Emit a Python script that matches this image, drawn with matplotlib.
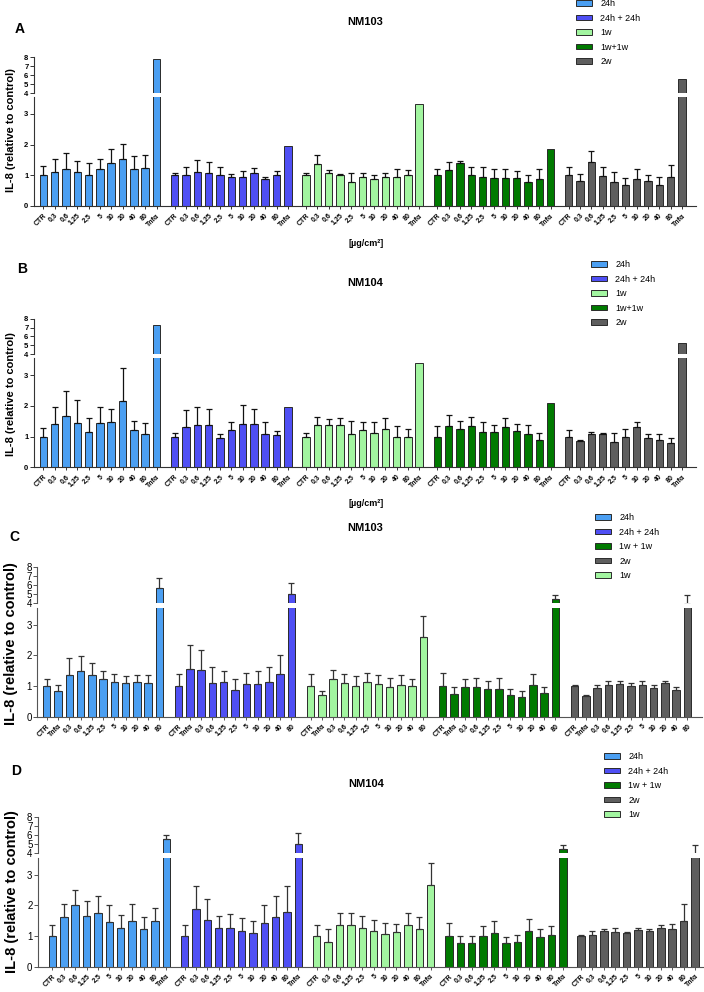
import matplotlib
matplotlib.use("Agg")
import matplotlib.pyplot as plt
import numpy as np
from matplotlib.patches import Patch

plt.rcParams['font.family'] = ['Liberation Sans', 'DejaVu Sans']

W, H = 704, 992

# ---- labels ----
doses_ab = ['CTR', '0,3', '0,6', '1,25', '2,5', '5', '10', '20', '40', '80', 'Tnfα']
doses_c = ['CTR', 'Tnfα', '0,3', '0,6', '1,25', '2,5', '5', '10', '20', '40', '80']
groups = ['24h', '24h + 24h', '1w', '1w+1w', '2w']
legend_cd = ['24h', '24h + 24h', '1w + 1w', '2w', '1w']
colors = ['#4b9ff2', '#4f4ff4', '#a2f5a0', '#007a00', '#5e5e5e']

# ---- panel A (NM103) ----
a_24h = [1.00, 1.11, 1.20, 1.11, 1.02, 1.22, 1.41, 1.54, 1.22, 1.24, 7.85]
a_24h_sd = [0.30, 0.41, 0.52, 0.37, 0.37, 0.30, 0.44, 0.48, 0.41, 0.43, 0]
a_24h24h = [1.00, 1.00, 1.11, 1.09, 1.02, 0.93, 0.93, 1.07, 0.87, 1.02, 1.96]
a_24h24h_sd = [0.09, 0.26, 0.39, 0.34, 0.26, 0.11, 0.20, 0.17, 0.06, 0.11, 0]
a_1w = [1.00, 1.37, 1.09, 1.00, 0.78, 0.96, 0.89, 0.93, 0.96, 1.00, 3.33]
a_1w_sd = [0.09, 0.30, 0.08, 0.04, 0.31, 0.13, 0.13, 0.16, 0.24, 0.17, 0]
a_1w1w = [1.00, 1.17, 1.39, 1.00, 0.93, 0.91, 0.91, 0.91, 0.78, 0.87, 1.85]
a_1w1w_sd = [0.22, 0.26, 0.09, 0.28, 0.35, 0.29, 0.31, 0.22, 0.22, 0.35, 0]
a_2w = [1.00, 0.80, 1.43, 0.98, 0.78, 0.67, 0.89, 0.80, 0.67, 0.96, 5.55]
a_2w_sd = [0.26, 0.24, 0.35, 0.30, 0.33, 0.24, 0.33, 0.20, 0.26, 0.39, 0]

# ---- panel B (NM104) ----
b_24h = [1.00, 1.41, 1.67, 1.43, 1.16, 1.43, 1.46, 2.15, 1.20, 1.09, 7.32]
b_24h_sd = [0.28, 0.57, 0.83, 0.77, 0.43, 0.53, 0.45, 1.07, 0.30, 0.34, 0]
b_24h24h = [1.00, 1.30, 1.37, 1.37, 0.96, 1.20, 1.41, 1.41, 1.07, 1.04, 1.98]
b_24h24h_sd = [0.11, 0.55, 0.59, 0.52, 0.11, 0.26, 0.61, 0.50, 0.41, 0.13, 0]
b_1w = [1.00, 1.39, 1.37, 1.37, 1.07, 1.20, 1.13, 1.24, 0.98, 0.98, 3.41]
b_1w_sd = [0.11, 0.24, 0.20, 0.22, 0.45, 0.28, 0.33, 0.35, 0.35, 0.26, 0]
b_1w1w = [1.00, 1.33, 1.26, 1.35, 1.15, 1.15, 1.30, 1.17, 1.09, 0.89, 2.09]
b_1w1w_sd = [0.33, 0.37, 0.24, 0.30, 0.33, 0.24, 0.29, 0.24, 0.28, 0.24, 0]
b_2w = [1.00, 0.87, 1.07, 1.09, 0.83, 0.98, 1.30, 0.96, 0.89, 0.80, 5.20]
b_2w_sd = [0.20, 0.02, 0.08, 0.02, 0.28, 0.26, 0.16, 0.13, 0.20, 0.16, 0]

# ---- panel C (NM103) ----
c_24h = [1.00, 0.85, 1.35, 1.48, 1.37, 1.22, 1.13, 1.11, 1.13, 1.11, 5.66]
c_24h_sd = [0.24, 0.19, 0.56, 0.50, 0.37, 0.28, 0.26, 0.22, 0.24, 0.24, 1.13]
c_24h24h = [1.00, 1.57, 1.52, 1.11, 1.13, 0.87, 1.07, 1.07, 1.13, 1.39, 4.98]
c_24h24h_sd = [0.39, 0.78, 0.65, 0.50, 0.37, 0.35, 0.36, 0.43, 0.48, 0.63, 1.21]
c_1w = [1.00, 0.72, 1.22, 1.09, 1.00, 1.13, 1.07, 0.98, 1.03, 1.01, 2.59]
c_1w_sd = [0.39, 0.13, 0.32, 0.32, 0.33, 0.30, 0.30, 0.28, 0.32, 0.21, 0.69]
c_1w1w = [1.00, 0.74, 0.96, 0.96, 0.89, 0.92, 0.70, 0.65, 1.02, 0.76, 4.38]
c_1w1w_sd = [0.43, 0.24, 0.28, 0.30, 0.28, 0.36, 0.19, 0.20, 0.37, 0.22, 0.52]
c_2w = [1.00, 0.67, 0.93, 1.02, 1.07, 1.00, 1.02, 0.93, 1.09, 0.87, 3.80]
c_2w_sd = [0.02, 0.05, 0.11, 0.13, 0.10, 0.11, 0.15, 0.11, 0.08, 0.09, 1.10]

# ---- panel D (NM104) ----
d_24h = [1.00, 1.63, 2.02, 1.65, 1.74, 1.46, 1.26, 1.48, 1.24, 1.50, 5.56]
d_24h_sd = [0.37, 0.41, 0.48, 0.50, 0.56, 0.54, 0.44, 0.56, 0.39, 0.43, 0.51]
d_24h24h = [1.00, 1.89, 1.54, 1.28, 1.26, 1.17, 1.09, 1.43, 1.61, 1.80, 5.04]
d_24h24h_sd = [0.37, 0.76, 0.66, 0.37, 0.46, 0.42, 0.39, 0.57, 0.69, 0.85, 1.18]
d_1w = [1.00, 0.80, 1.37, 1.37, 1.25, 1.15, 1.07, 1.13, 1.35, 1.24, 2.67]
d_1w_sd = [0.37, 0.42, 0.39, 0.37, 0.42, 0.37, 0.36, 0.28, 0.41, 0.39, 0.72]
d_1w1w = [1.00, 0.76, 0.78, 1.00, 1.09, 0.76, 0.80, 1.15, 0.96, 1.04, 4.44]
d_1w1w_sd = [0.43, 0.24, 0.22, 0.33, 0.41, 0.22, 0.22, 0.42, 0.26, 0.29, 0.52]
d_2w = [1.00, 1.02, 1.15, 1.13, 1.11, 1.20, 1.17, 1.26, 1.24, 1.48, 3.80]
d_2w_sd = [0.04, 0.15, 0.07, 0.15, 0.02, 0.06, 0.05, 0.09, 0.15, 0.56, 1.09]

fig = plt.figure(figsize=(W / 100, H / 100), dpi=100)


def fx(px):
    return px / W


def fy(px):
    return 1 - px / H


def panel(means, sds, labels, geo, bold, tick_fs, ecol, scol):
    left, right, y0, ylo_top, y4, y8, lm, gap, rm = geo
    n = len(labels)
    stride = n + gap
    xmax = 4 * stride + n - 1 + rm
    lo = fig.add_axes([fx(left), fy(y0), fx(right - left), (y0 - ylo_top) / H])
    hi = fig.add_axes([fx(left), fy(y4), fx(right - left), (y4 - y8) / H])
    fw = 'bold' if bold else 'normal'
    for ax in (lo, hi):
        for g in range(5):
            xs = g * stride + np.arange(n)
            m = np.array(means[g])
            s = np.array(sds[g])
            ax.bar(xs, m, width=0.66, color=colors[g], edgecolor='#2a2a2a',
                   linewidth=0.7, zorder=2)
            k = s > 0
            ax.errorbar(xs[k], m[k], yerr=[np.zeros(k.sum()), s[k]], fmt='none',
                        ecolor=ecol, elinewidth=0.9, capsize=2, capthick=0.9, zorder=3)
        ax.set_xlim(-lm, xmax)
        for sp in ('top', 'right'):
            ax.spines[sp].set_visible(False)
        for sp in ('left', 'bottom'):
            ax.spines[sp].set_color(scol)
            ax.spines[sp].set_linewidth(0.8)
        ax.tick_params(axis='y', length=3, width=0.7, color=scol, labelsize=tick_fs, pad=1)
    lo.set_ylim(0, 3.55)
    lo.set_yticks([0, 1, 2, 3])
    hi.set_ylim(4, 8)
    hi.set_yticks([4, 5, 6, 7, 8])
    for ax in (lo, hi):
        for t in ax.get_yticklabels():
            t.set_fontweight(fw)
    hi.spines['bottom'].set_visible(False)
    hi.set_xticks([])
    ticks = np.concatenate([g * stride + np.arange(n) for g in range(5)])
    lo.set_xticks(ticks)
    lo.set_xticklabels(labels * 5, rotation=45, ha='right', rotation_mode='anchor',
                       fontsize=5, fontweight='bold')
    lo.tick_params(axis='x', length=2.5, width=0.7, color=scol, pad=2)
    return lo, hi


def legend(names, x, y):
    cmap = {'24h': colors[0], '24h + 24h': colors[1], '1w': colors[2],
            '1w+1w': colors[3], '1w + 1w': colors[3], '2w': colors[4]}
    handles = [Patch(facecolor=cmap[nm], edgecolor='#2a2a2a', linewidth=0.7) for nm in names]
    fig.legend(handles, names, loc='upper left', bbox_to_anchor=(fx(x), fy(y)),
               frameon=False, fontsize=6.5, handlelength=1.8, handleheight=0.6,
               handletextpad=0.9, labelspacing=0.62, borderpad=0, borderaxespad=0)


ylab = 'IL-8 (relative to control)'

# A
panel([a_24h, a_24h24h, a_1w, a_1w1w, a_2w],
      [a_24h_sd, a_24h24h_sd, a_1w_sd, a_1w1w_sd, a_2w_sd], doses_ab,
      (34, 695.5, 206, 97, 93.3, 57.3, 0.82, 0.6, 1.2), True, 5.5, '#111111', '#333333')
fig.text(fx(20), fy(29), 'A', fontsize=10, fontweight='bold', ha='center', va='center')
fig.text(fx(365), fy(22), 'NM103', fontsize=8, fontweight='bold', ha='center', va='center')
fig.text(fx(366), fy(244), '[µg/cm²]', fontsize=6.5, fontweight='bold', ha='center', va='center')
fig.text(fx(11), fy(130), ylab, rotation=90, fontsize=8, fontweight='bold', ha='center', va='center')
legend(groups, 576, -1)

# B
panel([b_24h, b_24h24h, b_1w, b_1w1w, b_2w],
      [b_24h_sd, b_24h24h_sd, b_1w_sd, b_1w1w_sd, b_2w_sd], doses_ab,
      (34, 695.5, 467.3, 358.3, 354, 318.7, 0.82, 0.6, 1.2), True, 5.5, '#111111', '#333333')
fig.text(fx(22), fy(269), 'B', fontsize=10, fontweight='bold', ha='center', va='center')
fig.text(fx(365), fy(283), 'NM104', fontsize=8, fontweight='bold', ha='center', va='center')
fig.text(fx(366), fy(503), '[µg/cm²]', fontsize=6.5, fontweight='bold', ha='center', va='center')
fig.text(fx(11), fy(394), ylab, rotation=90, fontsize=8, fontweight='bold', ha='center', va='center')
legend(groups, 591, 260)

# C
panel([c_24h, c_24h24h, c_1w, c_1w1w, c_2w],
      [c_24h_sd, c_24h24h_sd, c_1w_sd, c_1w1w_sd, c_2w_sd], doses_c,
      (37.3, 701.7, 716.7, 608, 602.7, 567.3, 0.83, 0.7, 1.27), False, 7, '#333333', '#555555')
fig.text(fx(14), fy(537), 'C', fontsize=10, fontweight='bold', ha='center', va='center')
fig.text(fx(365), fy(528), 'NM103', fontsize=8, fontweight='bold', ha='center', va='center')
fig.text(fx(11), fy(644), ylab, rotation=90, fontsize=10.5, fontweight='bold', ha='center', va='center')
legend(legend_cd, 595, 513)

# D
panel([d_24h, d_24h24h, d_1w, d_1w1w, d_2w],
      [d_24h_sd, d_24h24h_sd, d_1w_sd, d_1w1w_sd, d_2w_sd], doses_ab,
      (38, 703, 966.7, 858, 853.3, 817.3, 1.26, 0.6, 0.7), False, 7, '#333333', '#555555')
fig.text(fx(16), fy(771), 'D', fontsize=10, fontweight='bold', ha='center', va='center')
fig.text(fx(366), fy(784), 'NM104', fontsize=8, fontweight='bold', ha='center', va='center')
fig.text(fx(12), fy(892), ylab, rotation=90, fontsize=10.5, fontweight='bold', ha='center', va='center')
legend(legend_cd, 604, 752)

fig.savefig('out.png', dpi=100)
